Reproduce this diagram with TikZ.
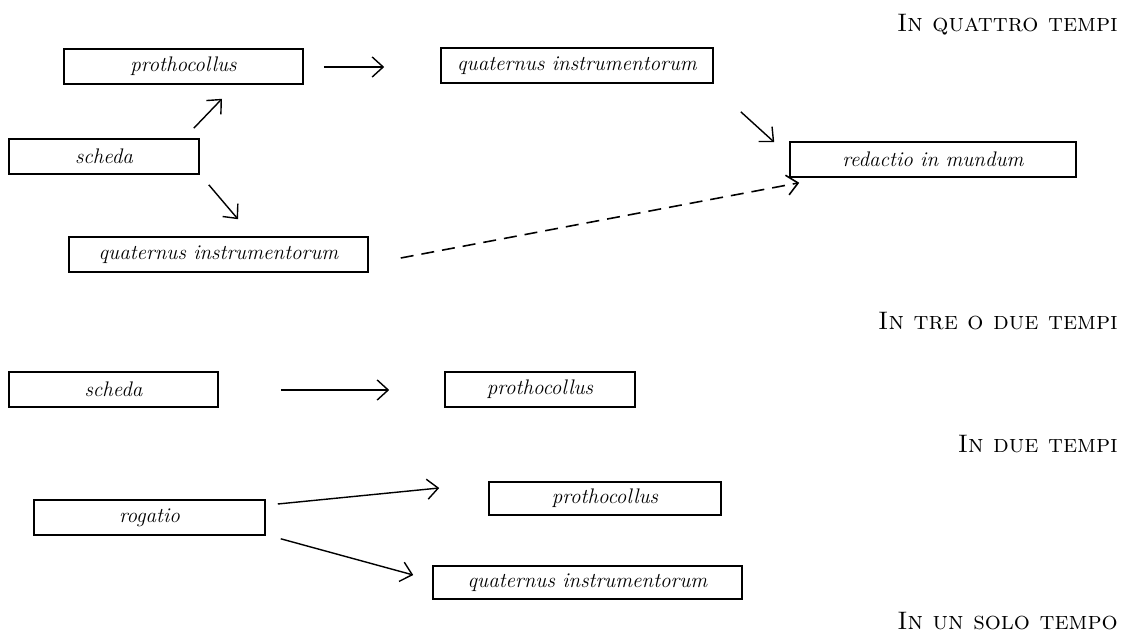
\documentclass[tikz,border=0pt]{standalone}
\usetikzlibrary{arrows.meta}
\tikzset{
	box/.style={draw, line width=0.9pt, inner sep=0pt, minimum height=7mm, font=\large\itshape},
	arr/.style={line width=0.8pt, -{Straight Barb[length=2.2mm,width=4mm]}},
	tempo/.style={anchor=base east, font=\Large\scshape}
}

\begin{document}
\begin{tikzpicture}[x=0.02cm, y=-0.02cm]
		%%%%% START %%%%%
		\useasboundingbox (0, 0) rectangle (1142, 634);
		
		% in quattro tempi
		\node[tempo] (t4) at (1124, 32) {In quattro tempi};
		\node[box, minimum width=4.78cm] (prot1) at (183.5, 66.5) {prothocollus};
		\node[box, minimum width=5.44cm] (quat1) at (577, 65.5) {quaternus instrumentorum};
		\node[box, minimum width=3.8cm] (sched1) at (104, 156.5) {scheda};
		\node[box, minimum width=5.98cm] (quat2) at (218.5, 254.5) {quaternus instrumentorum};
		\node[box, minimum width=5.72cm] (redac) at (933, 159.5) {redactio in mundum};
		
		\draw[arr] ([shift={(20, 0.5)}]prot1.east) -- ([shift={(-56, 1.5)}]quat1.west);
		\draw[arr] ([shift={(-6, -10)}]sched1.north east) -- ([shift={(38.5, 14)}]prot1.south);
		\draw[arr] ([shift={(9, 10)}]sched1.south east) -- ([shift={(19.5, -17)}]quat2.north);
		\draw[arr] ([shift={(27, 28)}]quat1.south east) -- ([shift={(-15, 1)}]redac.north west);
		\draw[arr, line width=0.9pt, dash pattern=on 2.6mm off 1.6mm] ([shift={(32, 3.5)}]quat2.east) -- ([shift={(10, 5)}]redac.south west);
		
		% in tre o due tempi
		\node[tempo] (t3) at (1124, 330) {In tre o due tempi};
		\node[box, minimum width=4.18cm] (sched2) at (113.5, 389.5) {scheda};
		\node[box, minimum width=3.8cm] (prot2) at (540, 389.5) {prothocollus};
		
		\draw[arr] ([shift={(62, 0.5)}]sched2.east) -- ([shift={(-55, 0.5)}]prot2.west);
		
		% in due tempi
		\node[tempo] (t2) at (1124, 453) {In due tempi};
		\node[box, minimum width=4.62cm] (rogat) at (149.5, 517.5) {rogatio};
		\node[box, minimum width=4.64cm, minimum height=6.6mm] (prot3) at (605, 498.5) {prothocollus};
		\node[box, minimum width=6.18cm, minimum height=6.6mm] (quat3) at (587.5, 582.5) {quaternus instrumentorum};
		
		\draw[arr] ([shift={(12, -13.5)}]rogat.east) -- ([shift={(-49, -10.5)}]prot3.west);
		\draw[arr] ([shift={(15, 3)}]rogat.south east) -- ([shift={(-19, -7.5)}]quat3.west);
		
		% in un solo tempo
		\node[tempo] (t1) at (1124, 629) {In un solo tempo};
		%%%%% END %%%%%
	\end{tikzpicture}
\end{document}
